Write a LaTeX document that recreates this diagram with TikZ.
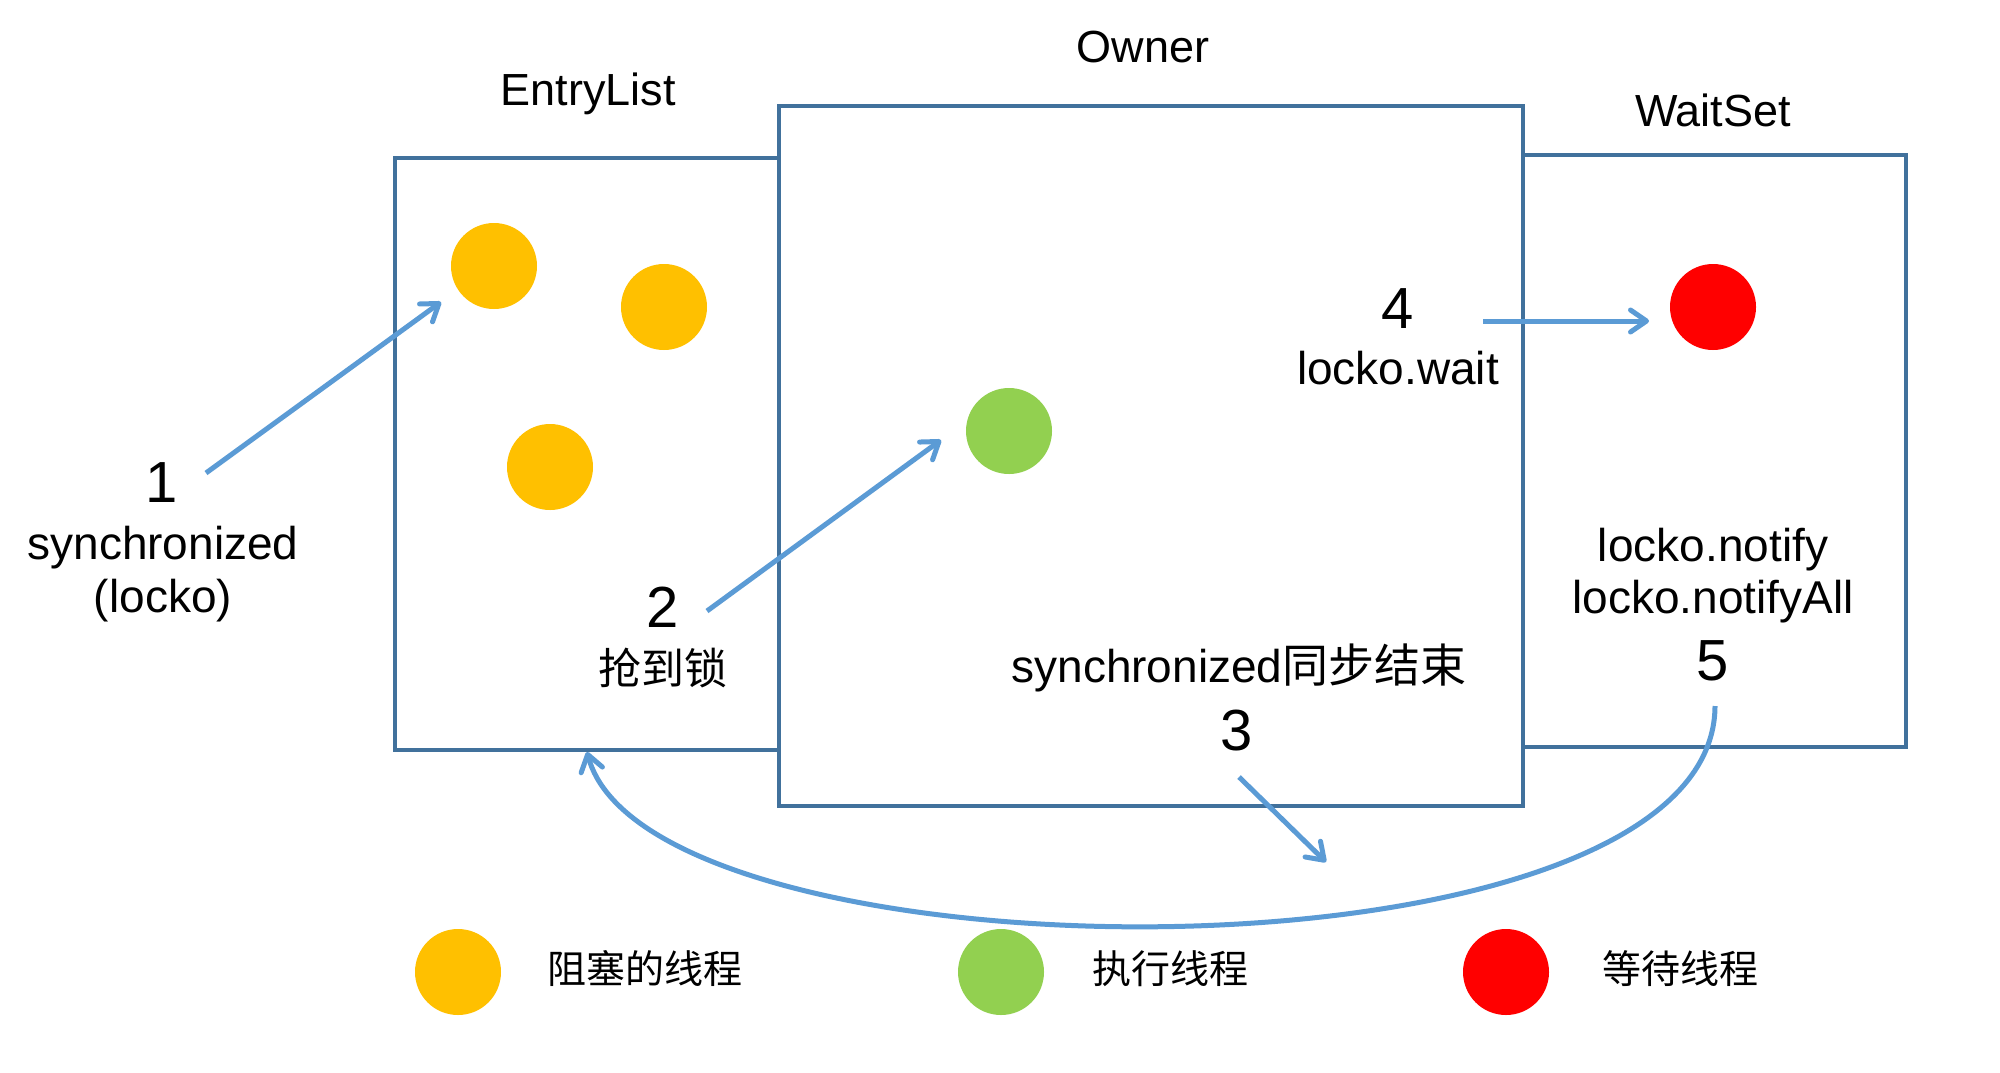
\documentclass[tikz,border=0pt]{standalone}
\usepackage{fontspec}
\setmainfont{Liberation Sans}
\newfontfamily\cjk{Noto Sans CJK SC}
\usetikzlibrary{arrows.meta}
\definecolor{boxblue}{HTML}{41719C}
\definecolor{arrblue}{HTML}{5B9BD5}
\definecolor{ylw}{HTML}{FFC000}
\definecolor{grn}{HTML}{92D050}
\definecolor{rd}{HTML}{FF0000}
\begin{document}
\begin{tikzpicture}[x=0.5pt,y=-0.5pt,
 frame/.style={draw=boxblue, line width=2.3pt, rectangle, inner sep=0pt},
 thread/.style={circle, inner sep=0pt, minimum size=43pt},
 lbl/.style={anchor=base, inner sep=0pt, font=\fontsize{22.5}{27}\selectfont},
 num/.style={anchor=base, inner sep=0pt, font=\fontsize{29}{34}\selectfont},
 leg/.style={anchor=base, inner sep=0pt, font=\cjk\fontsize{19.5}{23}\selectfont},
 flow/.style={draw=arrblue, line width=2.5pt, -{Straight Barb[length=8pt,width=11pt,round]}},
]
\fill[white] (0,0) rectangle (2000,1072);
\useasboundingbox (0,0) rectangle (2000,1072);

% frames
\node[frame, minimum width=192pt, minimum height=296pt] (entry) at (587,454) {};
\node[frame, minimum width=191.5pt, minimum height=296pt] (wait) at (1714.5,451) {};
\node[frame, minimum width=372pt, minimum height=350pt] (owner) at (1151,456) {};

% titles
\node[lbl] (tEntry) at (588,105) {EntryList};
\node[lbl] (tOwner) at (1143,62) {Owner};
\node[lbl] (tWait) at (1713,126) {WaitSet};

% threads
\node[thread, fill=ylw] (y1) at (494,266) {};
\node[thread, fill=ylw] (y2) at (664,307) {};
\node[thread, fill=ylw] (y3) at (550,467) {};
\node[thread, fill=grn] (g1) at (1009,431) {};
\node[thread, fill=rd] (r1) at (1713,307) {};

% step labels
\node[num] (n1) at (162,502) {1};
\node[lbl, font=\fontsize{23}{27}\selectfont] (s1a) at (163,559) {synchronized};
\node[lbl, font=\fontsize{23}{27}\selectfont] (s1b) at (163,612) {(locko)};
\node[num] (n2) at (663,627) {2};
\node[lbl, font=\cjk\fontsize{21.5}{26}\selectfont] (s2) at (663,684) {抢到锁};
\node[lbl, font=\fontsize{23}{27}\selectfont] (s3) at (1239,682) {synchronized{\cjk 同步结束}};
\node[num] (n3) at (1237,750) {3};
\node[num] (n4) at (1398,328) {4};
\node[lbl, font=\fontsize{23}{27}\selectfont] (s4) at (1398,384) {locko.wait};
\node[lbl, font=\fontsize{23}{27}\selectfont] (s5a) at (1713,561) {locko.notify};
\node[lbl, font=\fontsize{23}{27}\selectfont] (s5b) at (1713,613) {locko.notifyAll};
\node[num] (n5) at (1713,680) {5};

% arrow end points
\coordinate (a1s) at (206,473);
\coordinate (a1e) at (441,302);
\coordinate (a2s) at (707,611);
\coordinate (a2e) at (941,440);
\coordinate (a3s) at (1239,777);
\coordinate (a3e) at (1326,862);
\coordinate (a4s) at (1483,321);
\coordinate (a4e) at (1649,321);
\coordinate (a5s) at (1715,706);
\coordinate (a5e) at (587,752);

\draw[flow] (a1s) -- (a1e);
\draw[flow] (a2s) -- (a2e);
\draw[flow] (a3s) -- (a3e);
\draw[flow] (a4s) -- (a4e);
\draw[flow] (a5s) .. controls (1714,995) and (650,988) .. (a5e);

% legend
\node[thread, fill=ylw] (ly) at (458,972) {};
\node[thread, fill=grn] (lg) at (1001,972) {};
\node[thread, fill=rd] (lr) at (1506,972) {};
\node[leg] (tly) at (645,983) {阻塞的线程};
\node[leg] (tlg) at (1170,983) {执行线程};
\node[leg] (tlr) at (1680,983) {等待线程};
\end{tikzpicture}
\end{document}
